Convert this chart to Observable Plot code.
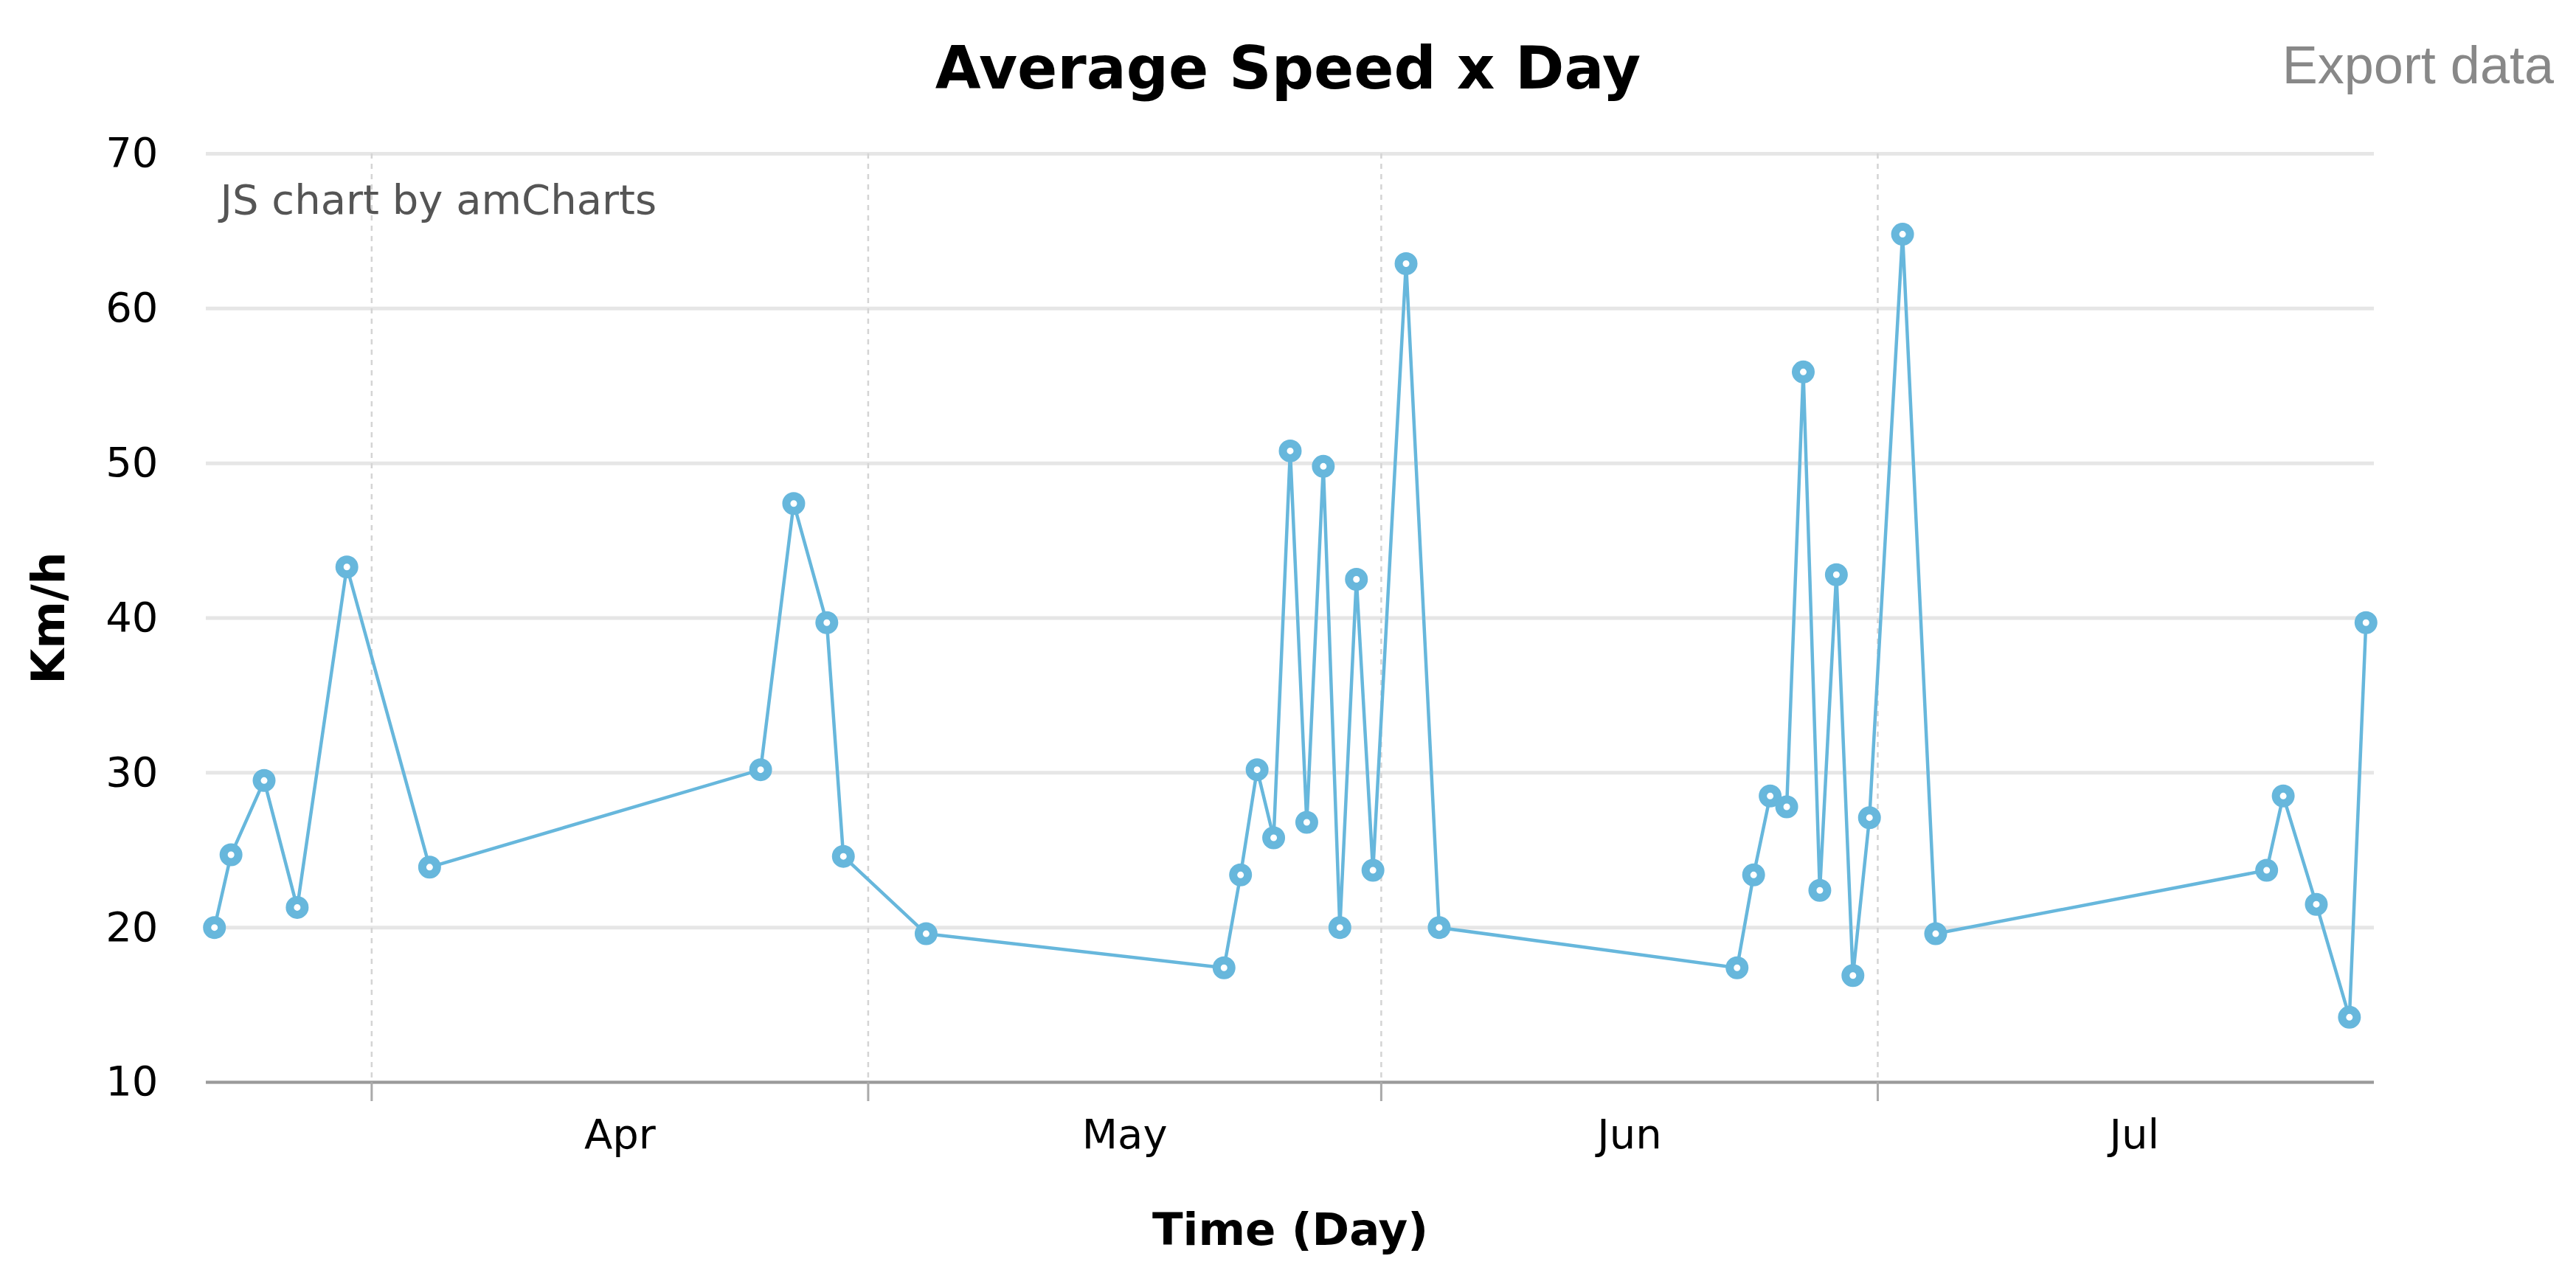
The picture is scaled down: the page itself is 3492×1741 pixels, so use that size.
<!DOCTYPE html>
<html>
<head>
<meta charset="utf-8">
<script src="https://cdn.jsdelivr.net/npm/d3@7"></script>
<script src="https://cdn.jsdelivr.net/npm/@observablehq/plot@0.6"></script>
<style>
  html, body { margin: 0; padding: 0; background: #fff; overflow: hidden; }
  #header { position: relative; width: 3492px; height: 150px; }
  #title { position: absolute; left: 0; width: 3492px; top: 53px; text-align: center;
           font: bold 80px "DejaVu Sans", Verdana, sans-serif; line-height: 80px; color: #000; }
  #export { position: absolute; right: 30px; top: 52px;
            font: 72px "Liberation Sans", Arial, sans-serif; line-height: 72px; color: #888; }
  #chart svg { display: block; }
</style>
</head>
<body>
<div id="header">
  <div id="title">Average Speed x Day</div>
  <div id="export">Export data</div>
</div>
<div id="chart"></div>
<script>
// ---- data ----
const dates = [
  "2018-03-22","2018-03-23","2018-03-25","2018-03-27","2018-03-30","2018-04-04",
  "2018-04-24","2018-04-26","2018-04-28","2018-04-29","2018-05-04",
  "2018-05-22","2018-05-23","2018-05-24","2018-05-25","2018-05-26","2018-05-27",
  "2018-05-28","2018-05-29","2018-05-30","2018-05-31","2018-06-02","2018-06-04",
  "2018-06-22","2018-06-23","2018-06-24","2018-06-25","2018-06-26","2018-06-27",
  "2018-06-28","2018-06-29","2018-06-30","2018-07-02","2018-07-04",
  "2018-07-24","2018-07-25","2018-07-27","2018-07-29","2018-07-30"
];
const speeds = [
  20.0, 24.7, 29.5, 21.3, 43.3, 23.9,
  30.2, 47.4, 39.7, 24.6, 19.6,
  17.4, 23.4, 30.2, 25.8, 50.8, 26.8,
  49.8, 20.0, 42.5, 23.7, 62.9, 20.0,
  17.4, 23.4, 28.5, 27.8, 55.9, 22.4,
  42.8, 16.9, 27.1, 64.8, 19.6,
  23.7, 28.5, 21.5, 14.2, 39.7
];
const monthStartStrings = ["2018-04-01","2018-05-01","2018-06-01","2018-07-01"];
const monthLabels = ["Apr","May","Jun","Jul"];
const yTicks = [10, 20, 30, 40, 50, 60, 70];
const xDomainStrings = ["2018-03-22","2018-07-31"];
const yDomain = [10, 70];

// ---- derived ----
const parse = d3.utcParse("%Y-%m-%d");
// each daily value sits in the middle of its day
const data = dates.map((d, i) => ({date: d3.utcHour.offset(parse(d), 12), speed: speeds[i]}));
const monthStarts = monthStartStrings.map(parse);
const monthMids = monthStarts.map(m => new Date((+m + +d3.utcMonth.offset(m, 1)) / 2));
const labelByTime = new Map(monthMids.map((m, i) => [+m, monthLabels[i]]));

const lineColor = "#67b7dc";

const chart = Plot.plot({
  width: 3492,
  height: 1591,
  marginLeft: 279,
  marginRight: 274,
  marginTop: 58,
  marginBottom: 274,
  style: {fontFamily: "'DejaVu Sans', Verdana, sans-serif", fontSize: "56px", color: "#000", background: "#fff"},
  x: {type: "utc", domain: xDomainStrings.map(parse)},
  y: {domain: yDomain},
  marks: [
    Plot.gridY(yTicks, {stroke: "#e6e6e6", strokeOpacity: 1, strokeWidth: 5}),
    Plot.gridX(monthStarts, {stroke: "#d4d4d4", strokeOpacity: 1, strokeWidth: 2.5, strokeDasharray: "7,7"}),
    Plot.ruleY([yDomain[0]], {stroke: "#9a9a9a", strokeWidth: 4}),
    Plot.axisX(monthStarts, {tickSize: 26, stroke: "#aaaaaa", strokeWidth: 3, fill: "none", label: null}),
    Plot.axisX(monthMids, {tickSize: 0, tickPadding: 50, fontSize: 56, fill: "#000",
                           tickFormat: d => labelByTime.get(+d), label: null}),
    Plot.axisY(yTicks, {tickSize: 0, tickPadding: 65, fontSize: 56, fill: "#000", label: null}),
    Plot.text(["Km/h"], {frameAnchor: "left", rotate: -90, dx: -212, textAnchor: "middle", lineAnchor: "middle",
                         fontWeight: "bold", fontSize: 62, fill: "#000"}),
    Plot.text(["Time (Day)"], {frameAnchor: "bottom", dy: 201, lineAnchor: "middle",
                               fontWeight: "bold", fontSize: 61, fill: "#000"}),
    Plot.text(["JS chart by amCharts"], {frameAnchor: "top-left", dx: 19, dy: 42, lineAnchor: "top",
                                         textAnchor: "start", fill: "#555", fontSize: 56}),
    Plot.line(data, {x: "date", y: "speed", stroke: lineColor, strokeWidth: 4.5}),
    Plot.dot(data, {x: "date", y: "speed", r: 10, stroke: lineColor, strokeWidth: 11, fill: "#fff"})
  ]
});
document.getElementById("chart").appendChild(chart);
</script>
</body>
</html>
